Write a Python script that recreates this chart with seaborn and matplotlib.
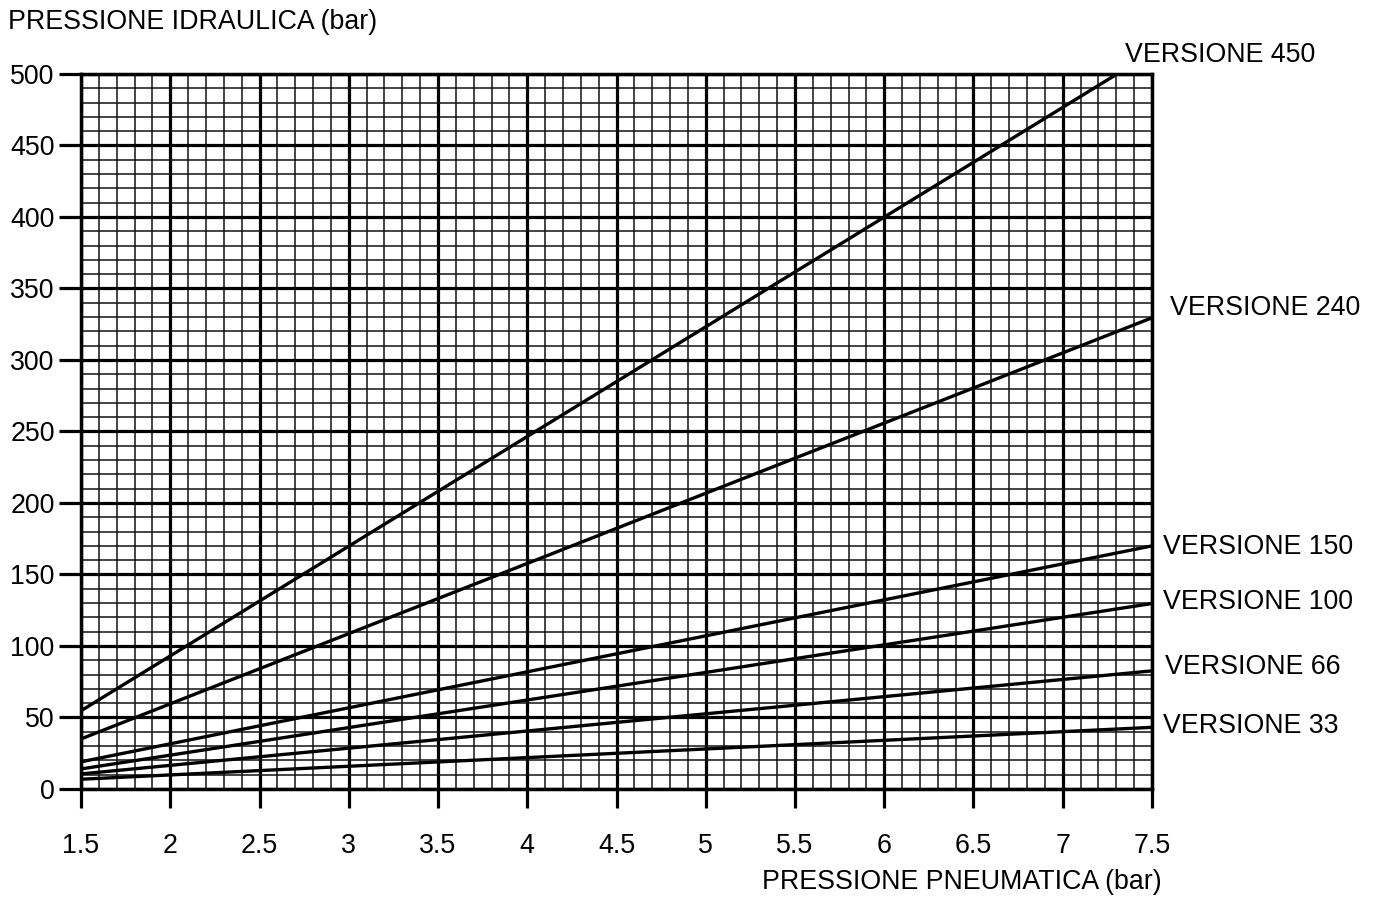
import matplotlib
matplotlib.use("Agg")
import matplotlib.pyplot as plt
import seaborn as sns
import pandas as pd
import numpy as np
from matplotlib.ticker import MultipleLocator

sns.set_theme(style="white")
plt.rcParams['font.family'] = ['Liberation Sans', 'DejaVu Sans']
plt.rcParams['text.color'] = 'black'

pneumatic = [1.5, 7.5]
v450 = [54.7, 515.0]
v240 = [35.0, 329.5]
v150 = [19.0, 170.0]
v100 = [14.0, 129.7]
v66 = [10.5, 82.6]
v33 = [6.8, 43.1]

series_names = ["VERSIONE 450", "VERSIONE 240", "VERSIONE 150",
                "VERSIONE 100", "VERSIONE 66", "VERSIONE 33"]
series_values = [v450, v240, v150, v100, v66, v33]

x_ticks = [1.5, 2, 2.5, 3, 3.5, 4, 4.5, 5, 5.5, 6, 6.5, 7, 7.5]
x_tick_labels = ["1.5", "2", "2.5", "3", "3.5", "4", "4.5", "5", "5.5", "6", "6.5", "7", "7.5"]
y_ticks = [0, 50, 100, 150, 200, 250, 300, 350, 400, 450, 500]

rows = []
for name, vals in zip(series_names, series_values):
    for xv, yv in zip(pneumatic, vals):
        rows.append({"pneu": xv, "idr": yv, "serie": name})
df = pd.DataFrame(rows)

fig = plt.figure(figsize=(13.76, 8.99), dpi=100)
ax = fig.add_axes([0.0589, 0.1224, 0.8372 - 0.0589, 0.9177 - 0.1224])

ax.set_xlim(1.5, 7.5)
ax.set_ylim(0, 500)

ax.xaxis.set_minor_locator(MultipleLocator(0.1))
ax.yaxis.set_minor_locator(MultipleLocator(10))
ax.set_xticks(x_ticks)
ax.set_xticklabels(x_tick_labels)
ax.set_yticks(y_ticks)

ax.grid(which="minor", color="#111111", linewidth=1.1, zorder=1)
ax.grid(which="major", color="black", linewidth=2.3, zorder=1)
ax.set_axisbelow(True)

sns.lineplot(data=df, x="pneu", y="idr", hue="serie",
             palette=["black"] * len(series_names), linewidth=2.4,
             legend=False, ax=ax, zorder=3)

for sp in ax.spines.values():
    sp.set_color("black")
    sp.set_linewidth(2.5)

FS = 19.3
ax.tick_params(axis="x", which="major", direction="out", length=14, width=2.3,
               color="black", labelcolor="black", labelsize=FS, pad=18, bottom=True)
ax.tick_params(axis="y", which="major", direction="out", length=16, width=2.3,
               color="black", labelcolor="black", labelsize=FS, pad=3, left=True)
ax.tick_params(which="minor", length=0)

ax.set_xlabel("")
ax.set_ylabel("")

fig.text(8 / 1376, 1 - 22 / 899, "PRESSIONE IDRAULICA (bar)", fontsize=FS,
         ha="left", va="center", color="black")
fig.text(1162 / 1376, 1 - 882 / 899, "PRESSIONE PNEUMATICA (bar)", fontsize=FS,
         ha="right", va="center", color="black")

label_pos = [(1125, 55), (1170, 308), (1163, 547), (1163, 602), (1165, 667), (1163, 726)]
for name, (px, py) in zip(series_names, label_pos):
    fig.text(px / 1376, 1 - py / 899, name, fontsize=FS, ha="left", va="center",
             color="black")

fig.savefig("out.png", dpi=100, facecolor="white")
